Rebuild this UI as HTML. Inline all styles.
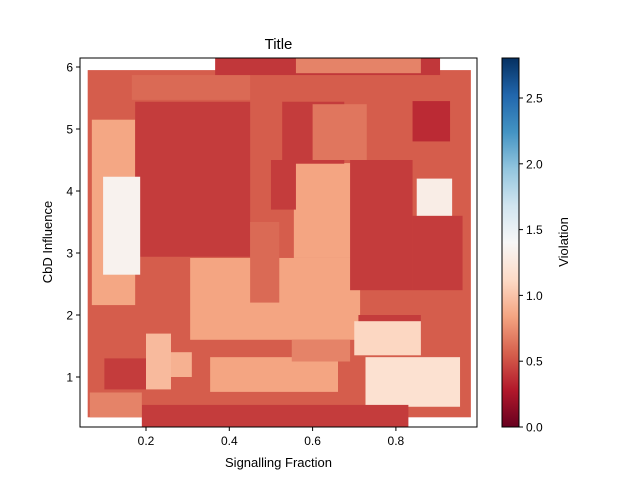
<!DOCTYPE html>
<html><head><meta charset="utf-8"><style>
body{margin:0;background:#fff;font-family:"Liberation Sans","DejaVu Sans",sans-serif}
svg text{font-family:"Liberation Sans","DejaVu Sans",sans-serif;fill:#000}
</style></head><body>
<svg id="chart" width="640" height="480" viewBox="0 0 640 480">
<defs>
<clipPath id="pc"><rect x="80" y="58" width="397" height="369"/></clipPath>
<linearGradient id="cg" x1="0" y1="1" x2="0" y2="0">
<stop offset="0" stop-color="#67001f"/><stop offset="0.1" stop-color="#b2182b"/><stop offset="0.2" stop-color="#d6604d"/><stop offset="0.3" stop-color="#f4a582"/><stop offset="0.4" stop-color="#fddbc7"/><stop offset="0.5" stop-color="#f7f7f7"/><stop offset="0.6" stop-color="#d1e5f0"/><stop offset="0.7" stop-color="#92c5de"/><stop offset="0.8" stop-color="#4393c3"/><stop offset="0.9" stop-color="#2166ac"/><stop offset="1" stop-color="#053061"/>
</linearGradient>
</defs>
<g id="cells" clip-path="url(#pc)"></g>
<rect x="80" y="58" width="397" height="369" fill="none" stroke="#000" stroke-width="1"/>
<g id="axes"></g>
<text x="278.5" y="49" font-size="15" text-anchor="middle">Title</text>
<text x="278.5" y="467" font-size="13" text-anchor="middle">Signalling Fraction</text>
<text x="52" y="242" font-size="13" text-anchor="middle" transform="rotate(-90 52 242)">CbD Influence</text>
<rect x="502" y="58" width="17" height="369" fill="url(#cg)" stroke="#000" stroke-width="1"/>
<text x="568" y="242" font-size="13" text-anchor="middle" transform="rotate(-90 568 242)">Violation</text>
</svg>
<script>
const rectX0=[0.06,0.07,0.166,0.174,0.097,0.306,0.555,0.527,0.69,0.84,0.366,0.56,0.71,0.354,0.727,0.19,0.065,0.84,0.85,0.70,0.5,0.45,0.60,0.25,0.55,0.10,0.20];
const rectX1=[0.98,0.174,0.45,0.45,0.186,0.714,0.692,0.676,0.84,0.96,0.906,0.86,0.86,0.661,0.954,0.83,0.19,0.93,0.935,0.86,0.56,0.52,0.73,0.31,0.69,0.20,0.26];
const rectY0=[0.35,2.16,5.47,2.94,2.65,1.6,2.92,4.44,2.4,2.4,5.87,5.9,1.6,0.76,0.52,0.19,0.35,4.8,3.6,1.35,3.7,2.2,4.5,1.0,1.25,0.8,0.8];
const rectY1=[5.95,5.15,5.87,5.44,4.23,2.92,4.45,5.44,4.5,3.6,6.2,6.2,2.0,1.32,1.32,0.55,0.75,5.45,4.2,1.9,4.5,3.5,5.4,1.4,1.6,1.3,1.7];
const rectV=[0.55,0.85,0.6,0.42,1.35,0.84,0.84,0.42,0.42,0.42,0.4,0.7,0.42,0.84,1.18,0.42,0.7,0.35,1.3,1.1,0.42,0.6,0.65,0.9,0.7,0.42,0.95];
const xTicks=[0.2,0.4,0.6,0.8];
const yTicks=[1,2,3,4,5,6];
const cTicks=[0,0.5,1.0,1.5,2.0,2.5];
const sx=v=>62.7+v*416.5, sy=v=>439-v*62, sc=v=>427-v*131.6;
const stops=["#67001f","#b2182b","#d6604d","#f4a582","#fddbc7","#f7f7f7","#d1e5f0","#92c5de","#4393c3","#2166ac","#053061"].map(h=>[1,3,5].map(i=>parseInt(h.substr(i,2),16)));
function col(v){let t=Math.max(0,Math.min(1,v/2.8))*10,i=Math.min(9,Math.floor(t)),f=t-i;const a=stops[i],b=stops[i+1];return "rgb("+a.map((c,k)=>Math.round(c+(b[k]-c)*f)).join(",")+")";}
const NS="http://www.w3.org/2000/svg",g=document.getElementById("cells"),ax=document.getElementById("axes");
for(let i=0;i<rectV.length;i++){const r=document.createElementNS(NS,"rect");


r.setAttribute("x",sx(rectX0[i]));r.setAttribute("y",sy(rectY1[i]));r.setAttribute("width",sx(rectX1[i])-sx(rectX0[i]));r.setAttribute("height",sy(rectY0[i])-sy(rectY1[i]));r.setAttribute("fill",col(rectV[i]));g.appendChild(r);}
function line(x1,y1,x2,y2){const l=document.createElementNS(NS,"line");l.setAttribute("x1",x1);l.setAttribute("y1",y1);l.setAttribute("x2",x2);l.setAttribute("y2",y2);l.setAttribute("stroke","#000");ax.appendChild(l);return l;}
function txt(x,y,s,a){const t=document.createElementNS(NS,"text");t.setAttribute("x",x);t.setAttribute("y",y);t.setAttribute("font-size","12");t.setAttribute("text-anchor",a);t.textContent=s;ax.appendChild(t);return t;}
xTicks.forEach(v=>{const l=line(sx(v),427,sx(v),431);


const t=txt(sx(v),445,v.toFixed(1),"middle");

});
yTicks.forEach(v=>{const l=line(76,sy(v),80,sy(v));


const t=txt(73,sy(v)+4.5,String(v),"end");

});
cTicks.forEach(v=>{const l=line(519,sc(v),523,sc(v));


const t=txt(526,sc(v)+4.5,v.toFixed(1),"start");

});
</script>
</body></html>
